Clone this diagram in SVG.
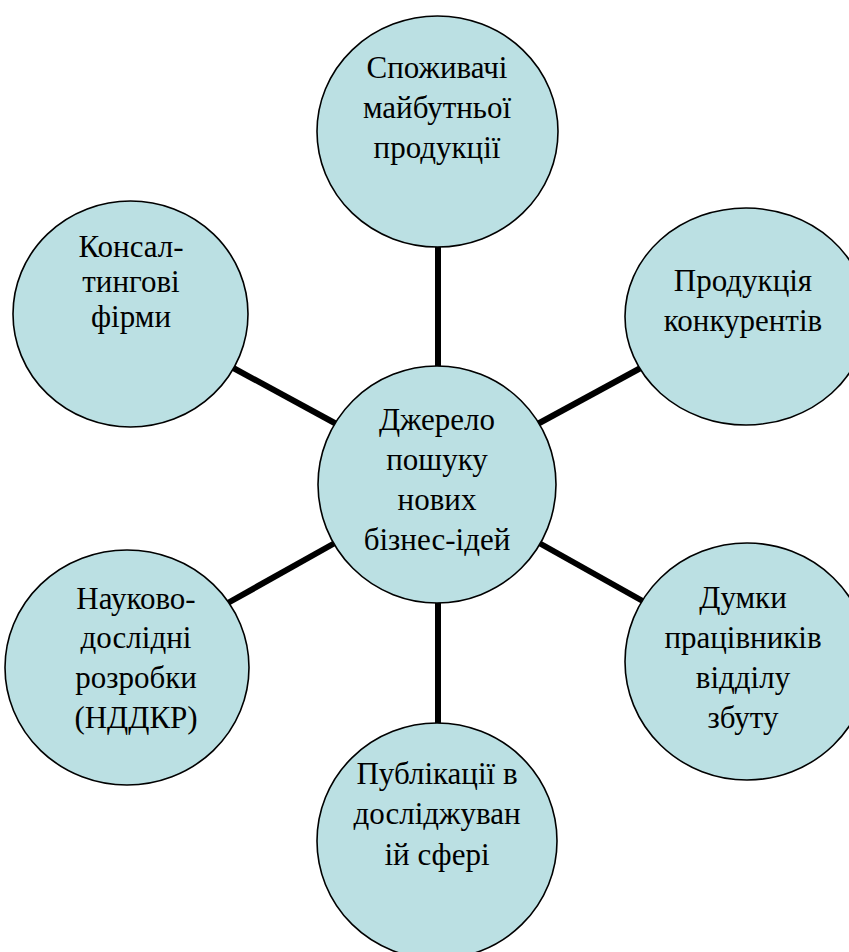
<svg xmlns="http://www.w3.org/2000/svg" width="849" height="952" viewBox="0 0 849 952">
<style>
.node ellipse{fill:#BBE0E3;stroke:#000;stroke-width:1.6}
.node text{font-family:"Liberation Serif","Times New Roman",serif;font-size:31px;fill:#000;text-anchor:middle}
.edges line{stroke:#000;stroke-width:6}
</style>
<rect width="849" height="952" fill="#fff"/>
<g id="connectors" class="edges">
<line x1="438" y1="240" x2="438" y2="372"/>
<line x1="226" y1="364" x2="342" y2="427"/>
<line x1="648" y1="364" x2="532" y2="427"/>
<line x1="226" y1="604" x2="342" y2="539"/>
<line x1="648" y1="604" x2="532" y2="539"/>
<line x1="438" y1="596" x2="438" y2="730"/>
</g>
<g id="node-top" class="node">
<ellipse cx="437.5" cy="131.5" rx="120.5" ry="115.5"/>
<text x="437" y="78">Споживачі</text>
<text x="437" y="118">майбутньої</text>
<text x="437" y="158">продукції</text>
</g>
<g id="node-topright" class="node">
<ellipse cx="746" cy="316.5" rx="121" ry="108.5"/>
<text x="743" y="291">Продукція</text>
<text x="743" y="331">конкурентів</text>
</g>
<g id="node-topleft" class="node">
<ellipse cx="130.5" cy="314" rx="117.5" ry="113"/>
<text x="131" y="257">Консал-</text>
<text x="131" y="292">тингові</text>
<text x="131" y="327">фірми</text>
</g>
<g id="node-center" class="node">
<ellipse cx="437" cy="484.5" rx="119" ry="118.5"/>
<text x="437" y="430">Джерело</text>
<text x="437" y="470">пошуку</text>
<text x="437" y="510">нових</text>
<text x="437" y="550">бізнес-ідей</text>
</g>
<g id="node-bottomright" class="node">
<ellipse cx="747" cy="661.5" rx="122" ry="118.5"/>
<text x="743" y="608">Думки</text>
<text x="743" y="648">працівників</text>
<text x="743" y="688">відділу</text>
<text x="743" y="728">збуту</text>
</g>
<g id="node-bottomleft" class="node">
<ellipse cx="127" cy="667.5" rx="122" ry="117.5"/>
<text x="136" y="609">Науково-</text>
<text x="136" y="648">дослідні</text>
<text x="136" y="688">розробки</text>
<text x="136" y="728">(НДДКР)</text>
</g>
<g id="node-bottom" class="node">
<ellipse cx="437" cy="841" rx="120" ry="118"/>
<text x="437" y="784">Публікації в</text>
<text x="437" y="824">досліджуван</text>
<text x="437" y="865">ій сфері</text>
</g>
</svg>
